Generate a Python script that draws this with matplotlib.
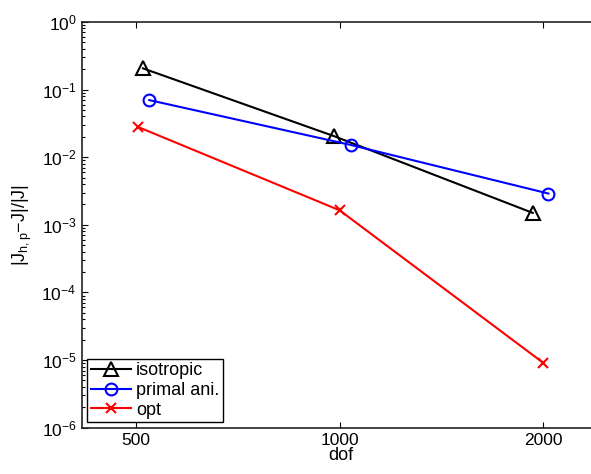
import matplotlib
matplotlib.use('Agg')
import matplotlib.pyplot as plt
import matplotlib.ticker as mticker
import numpy as np

plt.rcParams.update({
    'font.family': ['Liberation Sans', 'DejaVu Sans'],
    'font.size': 12,
    'mathtext.fontset': 'custom',
    'mathtext.rm': 'Liberation Sans',
    'mathtext.it': 'Liberation Sans',
    'mathtext.bf': 'Liberation Sans:bold',
})

# data
iso_dof = [512, 981, 1930]
iso_err = [0.206, 0.0205, 0.00150]
ani_dof = [523, 1038, 2036]
ani_err = [0.0699, 0.0152, 0.0029]
opt_dof = [503, 1000, 2000]
opt_err = [0.0281, 0.00164, 9.1e-6]

xticks = [500, 1000, 2000]

fig = plt.figure(figsize=(5.91, 4.74), dpi=100)
ax = fig.add_axes([0.1387, 0.0977, 0.876, 0.856])

ax.plot(iso_dof, iso_err, color='black', lw=1.5, marker='^', ms=9.5,
        mfc='none', mew=1.5, label='isotropic')
ax.plot(ani_dof, ani_err, color='blue', lw=1.5, marker='o', ms=8.5,
        mfc='none', mew=1.5, label='primal ani.')
ax.plot(opt_dof, opt_err, color='red', lw=1.5, marker='x', ms=6.5,
        mew=1.5, label='opt')

ax.set_xscale('log')
ax.set_yscale('log')
ax.set_xlim(416, 2424)
ax.set_ylim(1e-6, 1)
ax.set_xticks(xticks)
ax.xaxis.set_major_formatter(mticker.FixedFormatter([str(v) for v in xticks]))
ax.xaxis.set_minor_locator(mticker.NullLocator())
ax.yaxis.set_major_locator(mticker.LogLocator(base=10, numticks=10))
ax.yaxis.set_minor_locator(mticker.LogLocator(base=10, subs=np.arange(2, 10), numticks=20))
ax.yaxis.set_minor_formatter(mticker.NullFormatter())

ax.tick_params(which='both', direction='in', top=True, right=True,
               labelsize=12.5, width=0.8)
ax.tick_params(which='major', length=4, pad=4)
ax.tick_params(which='minor', length=2.5)
for s in ax.spines.values():
    s.set_linewidth(1.2)
    s.set_color('#222222')

ax.set_xlabel('dof', fontsize=13, labelpad=-1)
ax.set_ylabel(r'$\mathrm{|J_{h,p}{-}J|/|J|}$', fontsize=13, labelpad=5)

leg = ax.legend(loc='lower left', fontsize=13, frameon=True, fancybox=False,
                framealpha=1, edgecolor='black', handlelength=2.2,
                handletextpad=0.3, borderpad=0.2, labelspacing=0.15,
                borderaxespad=0.3)
leg.get_frame().set_linewidth(1.0)

fig.savefig('out.png', dpi=100)
